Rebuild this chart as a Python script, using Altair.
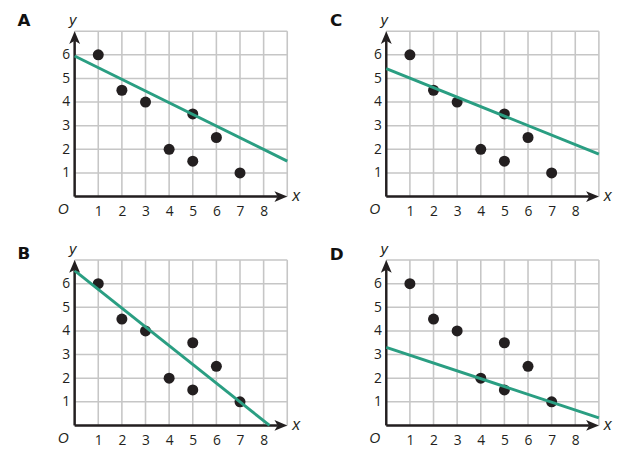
import altair as alt
import pandas as pd

# ---- data ----
point_x = [1, 2, 3, 4, 5, 5, 6, 7]
point_y = [6, 4.5, 4, 2, 3.5, 1.5, 2.5, 1]

panel_names = ["A", "C", "B", "D"]
line_x_start = [0, 0, 0, 0]
line_y_start = [5.95, 5.42, 6.55, 3.3]
line_x_end = [9, 9, 8.25, 9]
line_y_end = [1.5, 1.8, 0, 0.32]

x_tick_labels = [1, 2, 3, 4, 5, 6, 7, 8]
y_tick_labels = [1, 2, 3, 4, 5, 6]
x_grid = [0, 1, 2, 3, 4, 5, 6, 7, 8, 9]
y_grid = [0, 1, 2, 3, 4, 5, 6, 7]
x_max = 9
y_max = 7

# letter offsets (pixels, relative to plot area) per panel
letter_dx = [-51.5, -51.0, -51.5, -50.5]
letter_dy = [-10.2, -9.9, -6.0, -4.8]

FONT = "Open Sans"
IFONT = "Liberation Sans"
INK = "#231f20"
TEAL = "#2a9e82"
GRID = "#c6c6c6"

W, H = 216, 168

xs = alt.Scale(domain=[0, x_max], nice=False, zero=False)
ys = alt.Scale(domain=[0, y_max], nice=False, zero=False)

x_axis = alt.Axis(values=x_tick_labels, domain=False, ticks=False, grid=False,
                  title=None, labelFont=FONT, labelFontSize=14, labelColor=INK,
                  labelPadding=8, labelBaseline="top")
y_axis = alt.Axis(values=y_tick_labels, domain=False, ticks=False, grid=False,
                  title=None, labelFont=FONT, labelFontSize=14, labelColor=INK,
                  labelPadding=5, labelBaseline="middle")


def X(f):
    return alt.X(f, type="quantitative", scale=xs, axis=x_axis)


def Y(f):
    return alt.Y(f, type="quantitative", scale=ys, axis=y_axis)


right_arrow = "M0,0 L-2,-0.85 L-1.5,0 L-2,0.85 Z"
up_arrow = "M0,0 L-0.85,2 L0,1.5 L0.85,2 Z"


def panel(i):
    grid_df = pd.DataFrame(
        [{"x": g, "x2": g, "y": 0, "y2": y_max} for g in x_grid]
        + [{"x": 0, "x2": x_max, "y": g, "y2": g} for g in y_grid]
    )
    grid = alt.Chart(grid_df).mark_rule(color=GRID, strokeWidth=1.6).encode(
        x=X("x"), x2="x2", y=Y("y"), y2="y2")

    axes_df = pd.DataFrame([
        {"x": 0, "x2": x_max - 0.4, "y": 0, "y2": 0},
        {"x": 0, "x2": 0, "y": 0, "y2": y_max - 0.4},
    ])
    axes = alt.Chart(axes_df).mark_rule(color=INK, strokeWidth=2.5).encode(
        x=X("x"), x2="x2", y=Y("y"), y2="y2")

    pts_df = pd.DataFrame({"x": point_x, "y": point_y})
    pts = alt.Chart(pts_df).mark_circle(size=125, color=INK, opacity=1).encode(
        x=X("x"), y=Y("y"))

    line_df = pd.DataFrame({"x": [line_x_start[i], line_x_end[i]],
                            "y": [line_y_start[i], line_y_end[i]]})
    line = alt.Chart(line_df).mark_line(color=TEAL, strokeWidth=3).encode(
        x=X("x"), y=Y("y"))

    ax_df = pd.DataFrame({"x": [x_max], "y": [0]})
    arr_x = alt.Chart(ax_df).mark_point(shape=right_arrow, size=169, filled=True,
                                        color=INK, opacity=1).encode(x=X("x"), y=Y("y"))
    ay_df = pd.DataFrame({"x": [0], "y": [y_max]})
    arr_y = alt.Chart(ay_df).mark_point(shape=up_arrow, size=169, filled=True,
                                        color=INK, opacity=1).encode(x=X("x"), y=Y("y"))

    xlab = alt.Chart(ax_df).mark_text(text="x", font=IFONT, fontStyle="italic",
                                      fontSize=16, color=INK, align="center",
                                      baseline="middle", dx=9).encode(x=X("x"), y=Y("y"))
    ylab = alt.Chart(ay_df).mark_text(text="y", font=IFONT, fontStyle="italic",
                                      fontSize=15, color=INK, align="center",
                                      baseline="alphabetic", dx=-2.0, dy=-6.5).encode(
        x=X("x"), y=Y("y"))
    o_df = pd.DataFrame({"x": [0], "y": [0]})
    olab = alt.Chart(o_df).mark_text(text="O", font=IFONT, fontStyle="italic",
                                     fontSize=14, color=INK, align="center",
                                     baseline="alphabetic", dx=-11.5, dy=18).encode(
        x=X("x"), y=Y("y"))

    letter = alt.Chart(pd.DataFrame({"t": [panel_names[i]]})).mark_text(
        font="DejaVu Sans", fontWeight="bold", fontSize=17, color="#111111",
        align="center", baseline="middle").encode(
        text="t:N", x=alt.value(letter_dx[i]), y=alt.value(letter_dy[i]))

    return alt.layer(grid, axes, pts, line, arr_x, arr_y, xlab, ylab, olab, letter).properties(
        width=W, height=H)


chart = alt.concat(*[panel(i) for i in range(4)], columns=2,
                   spacing={"row": 64.5, "column": 100.6}, bounds="flush").properties(
    padding={"left": 8.7, "top": 0, "right": 5, "bottom": 5}
).configure_view(stroke=None)

chart.save("out.html", embed_options={"renderer": "svg", "actions": False})
